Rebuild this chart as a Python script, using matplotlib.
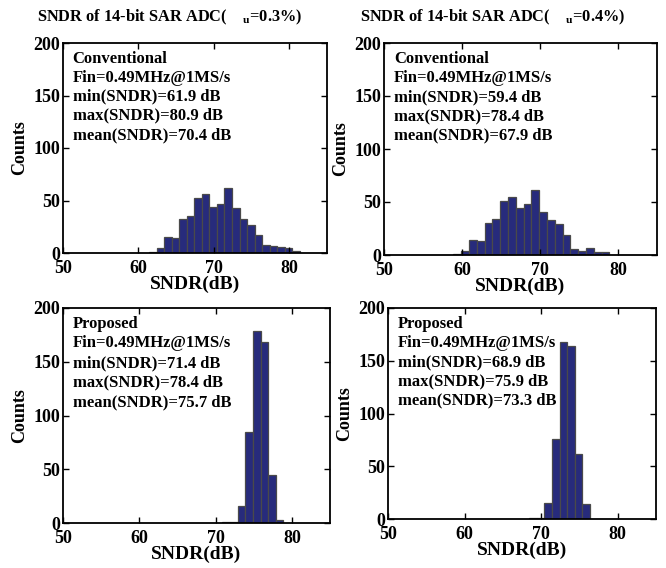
import numpy as np
import matplotlib
matplotlib.use("Agg")
import matplotlib.pyplot as plt

plt.rcParams['font.family'] = ['Liberation Serif', 'DejaVu Serif']
plt.rcParams['font.weight'] = 'bold'
plt.rcParams['mathtext.fontset'] = 'custom'
plt.rcParams['mathtext.rm'] = 'Liberation Serif:bold'
plt.rcParams['mathtext.bf'] = 'Liberation Serif:bold'
plt.rcParams['mathtext.it'] = 'Liberation Serif:bold'

# bin centres start at min(SNDR) with 1 dB step
conv03_start = 61.9
conv03_counts = [1, 5, 15, 14, 32, 35, 52, 56, 44, 47, 62, 43, 32, 27, 17, 8, 7, 6, 5, 2]
conv04_start = 59.4
conv04_counts = [1, 4, 14, 13, 30, 34, 51, 55, 44, 48, 61, 41, 33, 29, 19, 6, 4, 7, 3, 3]
prop03_start = 71.4
prop03_counts = [1, 1, 16, 85, 179, 168, 45, 3]
prop04_start = 68.9
prop04_counts = [1, 1, 15, 76, 168, 164, 62, 14]

titles = ['SNDR of 14-bit SAR ADC(    $_{u}$=0.3%)', 'SNDR of 14-bit SAR ADC(    $_{u}$=0.4%)']
title_x = [37, 360]
notes = [
    ['Conventional', 'Fin=0.49MHz@1MS/s', 'min(SNDR)=61.9 dB', 'max(SNDR)=80.9 dB', 'mean(SNDR)=70.4 dB'],
    ['Conventional', 'Fin=0.49MHz@1MS/s', 'min(SNDR)=59.4 dB', 'max(SNDR)=78.4 dB', 'mean(SNDR)=67.9 dB'],
    ['Proposed', 'Fin=0.49MHz@1MS/s', 'min(SNDR)=71.4 dB', 'max(SNDR)=78.4 dB', 'mean(SNDR)=75.7 dB'],
    ['Proposed', 'Fin=0.49MHz@1MS/s', 'min(SNDR)=68.9 dB', 'max(SNDR)=75.9 dB', 'mean(SNDR)=73.3 dB'],
]
series = [(conv03_start, conv03_counts), (conv04_start, conv04_counts),
          (prop03_start, prop03_counts), (prop04_start, prop04_counts)]

W, H = 666, 568
fig = plt.figure(figsize=(W / 100, H / 100), dpi=100)
# panel boxes in pixels: left, top, right, bottom
boxes = [(63, 43, 327, 253), (384, 43, 657, 255), (63, 308, 330, 523), (388, 308, 656, 519)]

for i, (box, (start, counts)) in enumerate(zip(boxes, series)):
    l, t, r, b = box
    ax = fig.add_axes([l / W, 1 - b / H, (r - l) / W, (b - t) / H])
    centers = start + np.arange(len(counts))
    ax.bar(centers, counts, width=1.0, color='#272b7c', edgecolor='#4a4a4a', linewidth=0.9)
    ax.set_xlim(50, 85)
    ax.set_ylim(0, 200)
    ax.set_xticks([50, 60, 70, 80])
    ax.set_yticks([0, 50, 100, 150, 200])
    ax.tick_params(direction='in', top=True, right=True, labelsize=13, length=4, width=1)
    ax.tick_params(axis='x', pad=5)
    ax.tick_params(axis='y', pad=2)
    for lab in ax.get_xticklabels() + ax.get_yticklabels():
        lab.set_fontweight('bold')
    for sp in ax.spines.values():
        sp.set_linewidth(1.3)
    ax.set_xlabel('SNDR(dB)', fontsize=14, fontweight='bold', labelpad=-1)
    ax.set_ylabel('Counts', fontsize=13, fontweight='bold', labelpad=4)
    if i < 2:
        fig.text(title_x[i] / W, 1 - 17 / H, titles[i], fontsize=11.8, fontweight='bold',
                 ha='left', va='center')
    for k, line in enumerate(notes[i]):
        ax.text(0.036, 0.926 - k * 0.091, line, transform=ax.transAxes,
                fontsize=12, fontweight='bold', va='center', ha='left')

fig.savefig('out.png', dpi=100)
